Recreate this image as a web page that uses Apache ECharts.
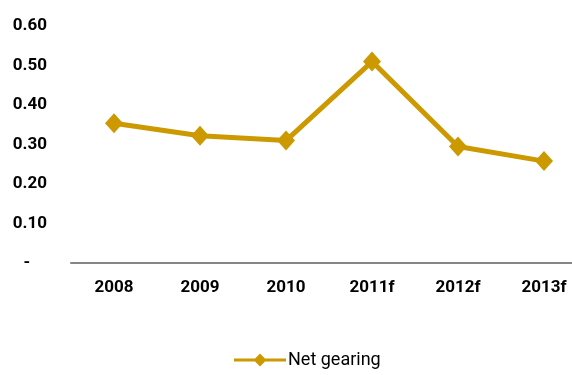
<!DOCTYPE html>
<html>
<head>
<meta charset="utf-8">
<script src="https://cdn.jsdelivr.net/npm/echarts@6/dist/echarts.min.js"></script>
<style>
  html, body { margin: 0; padding: 0; background: #fff; }
  #main { width: 572px; height: 375px; }
</style>
</head>
<body>
<div id="main"></div>
<script>
// years on the x axis
var years = ['2008', '2009', '2010', '2011f', '2012f', '2013f'];
// net gearing ratio
var netGearing = [0.354, 0.322, 0.31, 0.51, 0.295, 0.258];

var gold = '#CC9900';

var option = {
    animation: false,
    grid: {
        left: 71,
        width: 516,
        top: 26,
        bottom: 112,
        outerBoundsMode: 'none'
    },
    legend: {
        bottom: 1,
        left: 229,
        data: [{name: 'Net gearing', icon: 'path://M0,5 L21,5 L26,0 L31,5 L52,5 L52,8 L31,8 L26,13 L21,8 L0,8 Z'}],
        itemWidth: 52,
        itemHeight: 13,
        itemGap: 2,
        textStyle: {
            fontFamily: 'Roboto, Liberation Sans, Arial, sans-serif',
            fontSize: 18,
            color: '#000',
            padding: [0, 0, 0, -3]
        }
    },
    xAxis: {
        type: 'category',
        data: years,
        axisLine: {lineStyle: {color: '#858585', width: 2}},
        axisTick: {show: false},
        axisLabel: {
            margin: 16,
            fontFamily: 'Roboto, Liberation Sans, Arial, sans-serif',
            fontWeight: 'bold',
            fontSize: 17,
            color: '#000'
        }
    },
    yAxis: {
        type: 'value',
        min: 0,
        max: 0.6,
        interval: 0.1,
        splitLine: {show: false},
        axisLine: {show: false},
        axisTick: {show: false},
        axisLabel: {
            margin: 24,
            fontFamily: 'Roboto, Liberation Sans, Arial, sans-serif',
            fontWeight: 'bold',
            fontSize: 17,
            color: '#000',
            formatter: function (v) {
                return v === 0 ? '-    ' : v.toFixed(2);
            }
        }
    },
    series: [{
        name: 'Net gearing',
        type: 'line',
        data: netGearing,
        symbol: 'diamond',
        symbolSize: [18, 20],
        lineStyle: {color: gold, width: 5},
        itemStyle: {color: gold}
    }]
};

var chart = echarts.init(document.getElementById('main'));
chart.setOption(option);
</script>
</body>
</html>
